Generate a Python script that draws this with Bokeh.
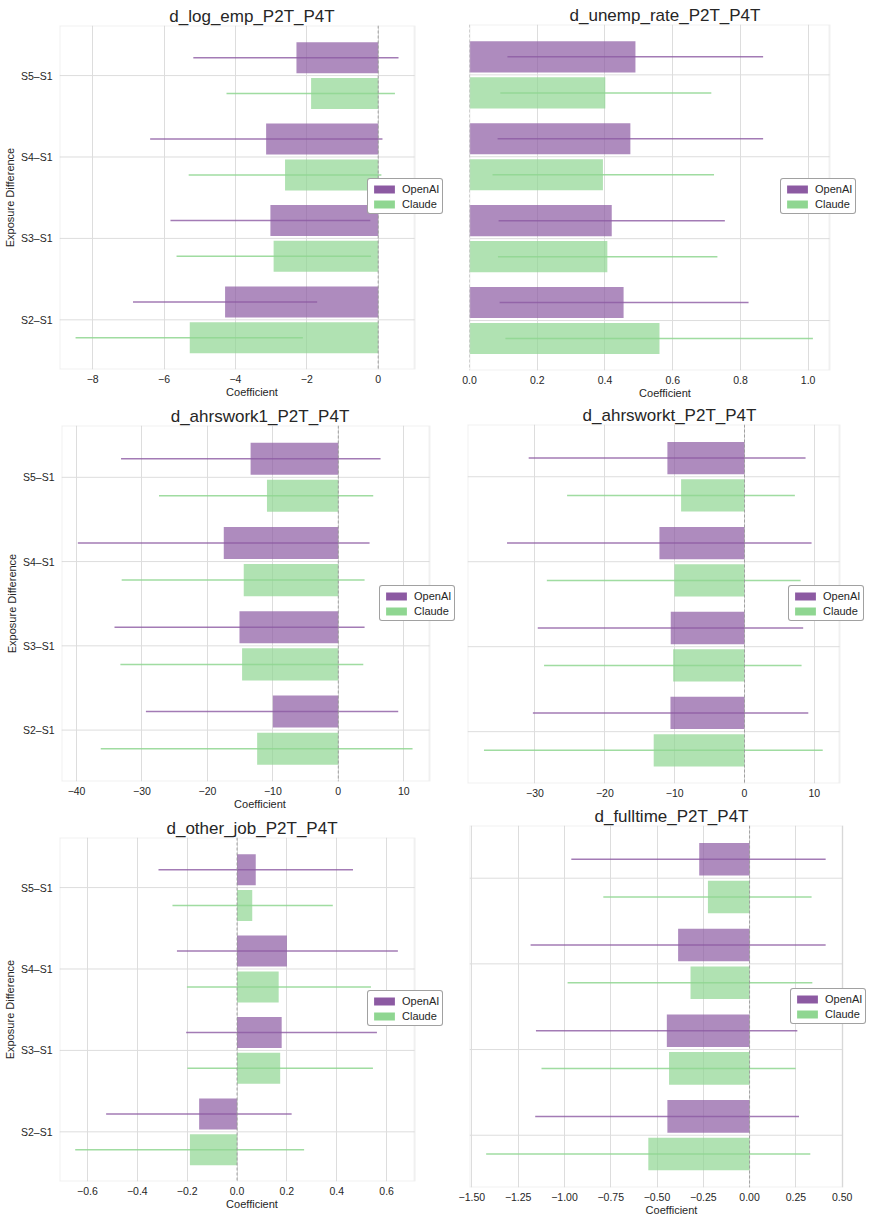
from bokeh.plotting import figure
from bokeh.models import (ColumnDataSource, FixedTicker, Legend, LegendItem,
                          Span, Range1d, LinearAxis, BoxAnnotation)
from bokeh.layouts import row, column
from bokeh.transform import dodge
from bokeh.embed import file_html
from bokeh.resources import INLINE

# ---------------- data ----------------
categories = ["S2–S1", "S3–S1", "S4–S1", "S5–S1"]

log_emp_openai = [-4.29, -3.02, -3.14, -2.29]
log_emp_openai_lo = [-6.87, -5.82, -6.39, -5.18]
log_emp_openai_hi = [-1.71, -0.22, 0.12, 0.57]
log_emp_claude = [-5.28, -2.93, -2.61, -1.88]
log_emp_claude_lo = [-8.48, -5.65, -5.31, -4.25]
log_emp_claude_hi = [-2.11, -0.20, 0.09, 0.47]

unemp_openai = [0.455, 0.420, 0.475, 0.490]
unemp_openai_lo = [0.089, 0.086, 0.083, 0.112]
unemp_openai_hi = [0.824, 0.754, 0.867, 0.867]
unemp_claude = [0.561, 0.407, 0.394, 0.401]
unemp_claude_lo = [0.106, 0.084, 0.068, 0.091]
unemp_claude_hi = [1.014, 0.732, 0.722, 0.714]

ahrswork1_openai = [-10.0, -15.1, -17.5, -13.4]
ahrswork1_openai_lo = [-29.4, -34.2, -39.8, -33.2]
ahrswork1_openai_hi = [9.16, 4.02, 4.78, 6.46]
ahrswork1_claude = [-12.4, -14.7, -14.45, -10.9]
ahrswork1_claude_lo = [-36.3, -33.3, -33.1, -27.4]
ahrswork1_claude_hi = [11.35, 3.82, 4.02, 5.34]

ahrsworkt_openai = [-10.6, -10.56, -12.18, -11.04]
ahrsworkt_openai_lo = [-30.3, -29.6, -34.0, -30.9]
ahrsworkt_openai_hi = [9.13, 8.40, 9.60, 8.74]
ahrsworkt_claude = [-13.0, -10.22, -10.03, -9.08]
ahrsworkt_claude_lo = [-37.3, -28.7, -28.3, -25.4]
ahrsworkt_claude_hi = [11.2, 8.17, 8.03, 7.21]

other_job_openai = [-0.152, 0.179, 0.200, 0.075]
other_job_openai_lo = [-0.525, -0.204, -0.241, -0.315]
other_job_openai_hi = [0.219, 0.561, 0.645, 0.465]
other_job_claude = [-0.189, 0.173, 0.167, 0.061]
other_job_claude_lo = [-0.649, -0.199, -0.201, -0.259]
other_job_claude_hi = [0.269, 0.545, 0.537, 0.384]

fulltime_openai = [-0.444, -0.447, -0.386, -0.272]
fulltime_openai_lo = [-1.158, -1.154, -1.183, -0.963]
fulltime_openai_hi = [0.267, 0.258, 0.411, 0.411]
fulltime_claude = [-0.547, -0.435, -0.319, -0.225]
fulltime_claude_lo = [-1.423, -1.124, -0.983, -0.790]
fulltime_claude_hi = [0.328, 0.249, 0.339, 0.335]

ticks_log_emp = [-8, -6, -4, -2, 0]
labels_log_emp = ["−8", "−6", "−4", "−2", "0"]
ticks_unemp = [0.0, 0.2, 0.4, 0.6, 0.8, 1.0]
labels_unemp = ["0.0", "0.2", "0.4", "0.6", "0.8", "1.0"]
ticks_ahrswork1 = [-40, -30, -20, -10, 0, 10]
labels_ahrswork1 = ["−40", "−30", "−20", "−10", "0", "10"]
ticks_ahrsworkt = [-30, -20, -10, 0, 10]
labels_ahrsworkt = ["−30", "−20", "−10", "0", "10"]
ticks_other_job = [-0.6, -0.4, -0.2, 0.0, 0.2, 0.4, 0.6]
labels_other_job = ["−0.6", "−0.4", "−0.2", "0.0", "0.2", "0.4", "0.6"]
ticks_fulltime = [-1.5, -1.25, -1.0, -0.75, -0.5, -0.25, 0.0, 0.25, 0.5]
labels_fulltime = ["−1.50", "−1.25", "−1.00", "−0.75", "−0.50", "−0.25",
                   "0.00", "0.25", "0.50"]

# ---------------- style ----------------
FONT = "Liberation Sans"
TXT = "#262626"
GRID = "#dddddd"
PURPLE = "#8c5aa2"
GREEN = "#8fd691"
OFF = 0.22
BAR_H = 0.38
Y0, Y1 = -0.61, 3.615


def make_panel(title, xr, ticks, tick_labels, oa, oa_lo, oa_hi, cl, cl_lo, cl_hi,
               width, height, mbl, vis_w, ext_w, mbt, mbb, legend_loc, show_y,
               xlabel=True):
    # vis_w: width of the drawn axes box; ext_w: drawing area incl. legend overhang
    x0, x1 = xr
    x_ext = x1 + (ext_w - vis_w) * (x1 - x0) / vis_w
    mbr = width - mbl - ext_w
    p = figure(width=width, height=height, output_backend="svg",
               toolbar_location=None, title=None,
               x_range=Range1d(x0, x_ext), y_range=Range1d(Y0, Y1),
               min_border_left=mbl, min_border_right=mbr,
               min_border_top=mbt, min_border_bottom=mbb)
    p.frame_align = False
    p.background_fill_color = "white"
    p.border_fill_color = "white"
    p.outline_line_color = None

    src = ColumnDataSource(dict(idx=list(range(len(categories))),
                                oa=oa, oa_lo=oa_lo, oa_hi=oa_hi,
                                cl=cl, cl_lo=cl_lo, cl_hi=cl_hi))

    # horizontal grid lines at the categories, limited to the axes box
    p.ygrid.visible = False
    p.segment(x0=x0, x1=x1, y0="idx", y1="idx", source=src, line_color=GRID,
              line_width=1, level="underlay")

    p.hbar(y=dodge("idx", OFF), height=BAR_H, left=0, right="oa", source=src,
           fill_color=PURPLE, fill_alpha=0.7, line_color=None)
    p.hbar(y=dodge("idx", -OFF), height=BAR_H, left=0, right="cl", source=src,
           fill_color=GREEN, fill_alpha=0.7, line_color=None)
    p.segment(x0="oa_lo", x1="oa_hi", y0=dodge("idx", OFF), y1=dodge("idx", OFF),
              source=src, line_color=PURPLE, line_alpha=0.8, line_width=1.5)
    p.segment(x0="cl_lo", x1="cl_hi", y0=dodge("idx", -OFF), y1=dodge("idx", -OFF),
              source=src, line_color=GREEN, line_alpha=0.85, line_width=1.5)

    p.add_layout(Span(location=0, dimension="height", line_color="#999999",
                      line_width=0.9, line_dash="3 2"))

    # axes box
    p.add_layout(BoxAnnotation(left=x0, right=x1, bottom=Y0, top=Y1,
                               fill_alpha=0, line_color="#cccccc",
                               line_width=2.0))

    # legend swatches at full colour (hidden proxies)
    d1 = p.hbar(y=dodge("idx", OFF), height=BAR_H, left=0, right="oa", source=src,
                fill_color=PURPLE, line_color=None, visible=False)
    d2 = p.hbar(y=dodge("idx", -OFF), height=BAR_H, left=0, right="cl", source=src,
                fill_color=GREEN, line_color=None, visible=False)
    leg = Legend(items=[LegendItem(label="OpenAI", renderers=[d1]),
                        LegendItem(label="Claude", renderers=[d2])],
                 location=legend_loc, orientation="vertical", margin=0,
                 padding=3, spacing=2, glyph_width=26, glyph_height=10,
                 label_standoff=5, label_height=13,
                 label_text_font=FONT, label_text_font_size="11px",
                 label_text_color=TXT, border_line_color="#444444",
                 border_line_width=1, background_fill_color="white",
                 background_fill_alpha=1.0, inactive_fill_alpha=0)
    if "border_radius" in Legend.properties():
        leg.border_radius = 3
    p.add_layout(leg, "center")

    # vertical grid lines
    p.xgrid.grid_line_color = GRID
    p.xgrid.grid_line_width = 1
    p.xgrid.ticker = FixedTicker(ticks=[float(t) for t in ticks], minor_ticks=[])

    # x axis
    xa = p.xaxis[0]
    xa.bounds = (x0, x1)
    xa.ticker = FixedTicker(ticks=[float(t) for t in ticks], minor_ticks=[])
    xa.major_label_overrides = {float(t): s for t, s in zip(ticks, tick_labels)}
    xa.axis_line_color = None
    xa.major_tick_line_color = None
    xa.minor_tick_line_color = None
    xa.major_tick_out = 0
    xa.major_tick_in = 0
    xa.minor_tick_out = 0
    xa.major_label_standoff = 5
    xa.major_label_text_font = FONT
    xa.major_label_text_font_size = "10.5px"
    xa.major_label_text_color = TXT
    if xlabel:
        xa.axis_label = "Coefficient"
        xa.axis_label_text_font = FONT
        xa.axis_label_text_font_size = "11px"
        xa.axis_label_text_font_style = "normal"
        xa.axis_label_text_color = TXT
        xa.axis_label_standoff = 0

    # title as a bare axis label above the axes box
    ta = LinearAxis(axis_label=title, bounds=(x0, x1),
                    ticker=FixedTicker(ticks=[], minor_ticks=[]),
                    axis_line_color=None, major_tick_line_color=None,
                    minor_tick_line_color=None, major_tick_out=0, major_tick_in=0,
                    minor_tick_out=0, major_label_standoff=0,
                    major_label_text_font_size="0px", axis_label_standoff=0,
                    axis_label_text_font=FONT, axis_label_text_font_size="17px",
                    axis_label_text_font_style="normal", axis_label_text_color=TXT)
    p.add_layout(ta, "above")

    ya = p.yaxis[0]
    if show_y:
        ya.ticker = FixedTicker(ticks=list(range(len(categories))), minor_ticks=[])
        ya.major_label_overrides = {i: c for i, c in enumerate(categories)}
        ya.axis_line_color = None
        ya.major_tick_line_color = None
        ya.minor_tick_line_color = None
        ya.major_tick_out = 0
        ya.major_tick_in = 0
        ya.minor_tick_out = 0
        ya.major_label_standoff = 7
        ya.major_label_text_font = FONT
        ya.major_label_text_font_size = "10.5px"
        ya.major_label_text_color = TXT
        ya.axis_label = "Exposure Difference"
        ya.axis_label_text_font = FONT
        ya.axis_label_text_font_size = "11px"
        ya.axis_label_text_font_style = "normal"
        ya.axis_label_text_color = TXT
        ya.axis_label_standoff = 2
    else:
        ya.visible = False
    return p


f1 = make_panel("d_log_emp_P2T_P4T", (-8.93, 1.02), ticks_log_emp, labels_log_emp,
                log_emp_openai, log_emp_openai_lo, log_emp_openai_hi,
                log_emp_claude, log_emp_claude_lo, log_emp_claude_hi,
                458, 402, 58, 356, 386, 25, 33, (308, 155), True)
f3 = make_panel("d_ahrswork1_P2T_P4T", (-42.3, 13.94), ticks_ahrswork1, labels_ahrswork1,
                ahrswork1_openai, ahrswork1_openai_lo, ahrswork1_openai_hi,
                ahrswork1_claude, ahrswork1_claude_lo, ahrswork1_claude_hi,
                458, 412, 61, 368, 397, 23, 33, (318, 160), True)
f5 = make_panel("d_other_job_P2T_P4T", (-0.712, 0.712), ticks_other_job, labels_other_job,
                other_job_openai, other_job_openai_lo, other_job_openai_hi,
                other_job_claude, other_job_claude_lo, other_job_claude_hi,
                458, 404, 58, 356, 386, 23, 37, (308, 155), True)
f2 = make_panel("d_unemp_rate_P2T_P4T", (0.0, 1.063), ticks_unemp, labels_unemp,
                unemp_openai, unemp_openai_lo, unemp_openai_hi,
                unemp_claude, unemp_claude_lo, unemp_claude_hi,
                420, 402, 11, 360, 391, 24, 32, (311, 156), False)
f4 = make_panel("d_ahrsworkt_P2T_P4T", (-39.66, 13.6), ticks_ahrsworkt, labels_ahrsworkt,
                ahrsworkt_openai, ahrsworkt_openai_lo, ahrsworkt_openai_hi,
                ahrsworkt_claude, ahrsworkt_claude_lo, ahrsworkt_claude_hi,
                420, 401, 9, 372, 404, 22, 20, (321, 162), False, xlabel=False)
f6 = make_panel("d_fulltime_P2T_P4T", (-1.513, 0.502), ticks_fulltime, labels_fulltime,
                fulltime_openai, fulltime_openai_lo, fulltime_openai_hi,
                fulltime_claude, fulltime_claude_lo, fulltime_claude_hi,
                420, 415, 11, 373, 404, 22, 30, (321, 163), False)

layout = row(column(f1, f3, f5), column(f2, f4, f6))

open("out.html", "w").write(file_html(layout, INLINE))
